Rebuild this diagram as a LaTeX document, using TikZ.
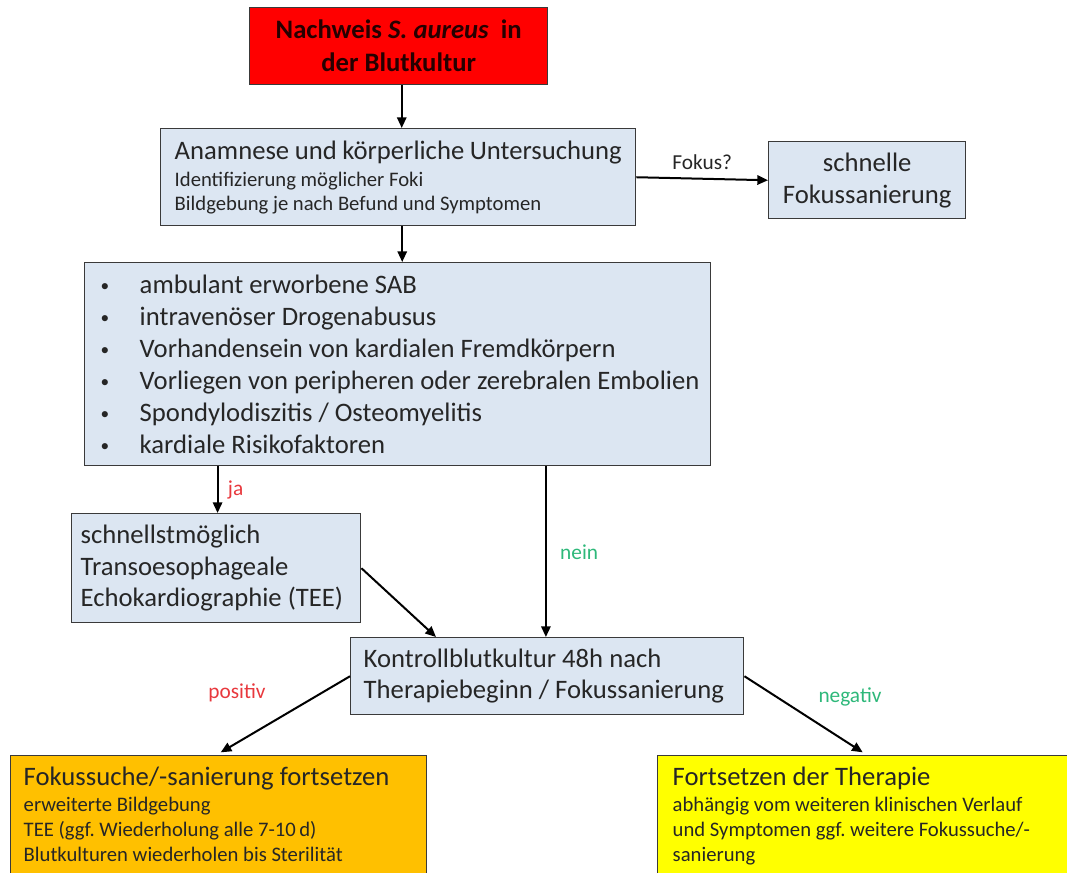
\documentclass[tikz,border=0pt]{standalone}
\usepackage{fontspec}
\setmainfont{Carlito}
\usetikzlibrary{arrows.meta,calc}
\frenchspacing
\definecolor{boxblue}{HTML}{DCE6F2}
\definecolor{boxred}{HTML}{FF0000}
\definecolor{boxorange}{HTML}{FFC000}
\definecolor{boxyellow}{HTML}{FFFF00}
\definecolor{edgegray}{HTML}{3A3A3A}
\definecolor{txt}{HTML}{262626}
\definecolor{lblred}{HTML}{E8383D}
\definecolor{lblgreen}{HTML}{2EB87A}
\tikzset{
  box/.style={draw=edgegray, line width=1.1pt, anchor=north west, text=txt, inner ysep=0pt},
  bluebox/.style={box, fill=boxblue},
  arr/.style={-{Triangle[length=8pt,width=7pt]}, line width=1.5pt, black},
  lbl/.style={font=\fontsize{16pt}{18pt}\selectfont, inner sep=1pt},
}
\newcommand{\ttl}[1]{{\fontsize{20pt}{18pt}\selectfont #1}}
\newcommand{\bul}[1]{\mbox{\makebox[29.25pt][l]{\raisebox{1.5pt}{\fontsize{13pt}{13pt}\selectfont\textbullet}}#1}}
\begin{document}
\frenchspacing
\begin{tikzpicture}[x=0.75pt,y=-0.75pt]
\useasboundingbox (0,0) rectangle (1067,872);

% red start box
\node[box, fill=boxred, minimum width=223.5pt, minimum height=57.75pt, align=flush center,
      font=\fontsize{20pt}{24.75pt}\selectfont\bfseries, text=black!85!red] (red) at (249,7)
  {Nachweis \textit{S. aureus}\ \ in\\der Blutkultur};

% Anamnese
\node[bluebox, inner xsep=10.5pt, text width=335.25pt, minimum height=72.75pt, align=flush left,
      font=\fontsize{15.5pt}{18pt}\selectfont] (anam) at (160,128)
  {\ttl{Anamnese und körperliche Untersuchung}\\[2.5pt]
   Identifizierung möglicher Foki\\
   Bildgebung je nach Befund und Symptomen};

% schnelle Fokussanierung
\node[bluebox, inner xsep=0pt, text width=147.75pt, minimum height=57.75pt, align=flush center,
      font=\fontsize{20pt}{24pt}\selectfont] (fokus) at (768,141)
  {schnelle\\Fokussanierung};

% list
\node[bluebox, inner xsep=12pt, text width=445.5pt, minimum height=152.25pt, align=flush left,
      font=\fontsize{20pt}{24pt}\selectfont] (list) at (84,262)
  {\bul{ambulant erworbene SAB}\\
   \bul{intravenöser Drogenabusus}\\
   \bul{Vorhandensein von kardialen Fremdkörpern}\\
   \bul{Vorliegen von peripheren oder zerebralen Embolien}\\
   \bul{Spondylodiszitis / Osteomyelitis}\\
   \bul{kardiale Risikofaktoren}};

% TEE
\node[bluebox, inner xsep=6.75pt, text width=203.25pt, minimum height=81.75pt, align=flush left,
      font=\fontsize{20pt}{23.6pt}\selectfont] (tee) at (71,513)
  {schnellstmöglich\\Transoesophageale\\Echokardiographie (TEE)};

% Kontrollblutkultur
\node[bluebox, inner xsep=9.75pt, text width=275.25pt, minimum height=57.75pt, align=flush left,
      font=\fontsize{20pt}{23.25pt}\selectfont] (kontroll) at (350,637)
  {Kontrollblutkultur 48h nach\\Therapiebeginn / Fokussanierung};

% orange result box
\node[box, fill=boxorange, inner xsep=9.75pt, inner ysep=8.5pt, text width=292.5pt, align=flush left,
      font=\fontsize{15.5pt}{18.75pt}\selectfont] (orange) at (10,755)
  {\ttl{Fokussuche/-sanierung fortsetzen}\\[0.5pt]
   erweiterte Bildgebung\\
   TEE (ggf. Wiederholung alle 7-10\,d)\\
   Blutkulturen wiederholen bis Sterilität\rule[-30pt]{0pt}{0pt}};

% yellow result box
\node[box, fill=boxyellow, inner xsep=11.25pt, inner ysep=8.5pt, text width=291pt, align=flush left,
      font=\fontsize{15.5pt}{18.75pt}\selectfont] (yellow) at (657,755)
  {\ttl{Fortsetzen der Therapie}\\[0.5pt]
   abhängig vom weiteren klinischen Verlauf\\
   und Symptomen ggf. weitere Fokussuche/-\\
   sanierung\rule[-30pt]{0pt}{0pt}};

% connectors
\draw[arr] ([xshift=2.25pt]red.south) -- ([xshift=2.25pt]red.south |- anam.north);
\draw[arr] (anam.east) -- node[lbl, above=5pt, pos=0.5, text=txt] (lfokus) {Fokus?} (fokus.west);
\draw[arr] ([xshift=3pt]anam.south) -- ([xshift=3pt]anam.south |- list.north);
\draw[arr] ([xshift=1pt]tee.north |- list.south) -- node[lbl, right=6pt, text=lblred] (lja) {ja} ([xshift=1pt]tee.north);
\draw[arr] ([xshift=-1pt]kontroll.north |- list.south) -- node[lbl, right=9pt, text=lblgreen] (lnein) {nein} ([xshift=-1pt]kontroll.north);
\draw[arr] (tee.east) -- ([xshift=64.5pt]kontroll.north west);
\draw[arr] (kontroll.west) -- ([xshift=1.5pt,yshift=2pt]orange.north);
\draw[arr] (kontroll.east) -- ([xshift=-3pt,yshift=2pt]yellow.north);

\node[lbl, text=lblred] (lpos) at (237,693) {positiv};
\node[lbl, text=lblgreen] (lneg) at (850,697) {negativ};
\end{tikzpicture}
\end{document}
